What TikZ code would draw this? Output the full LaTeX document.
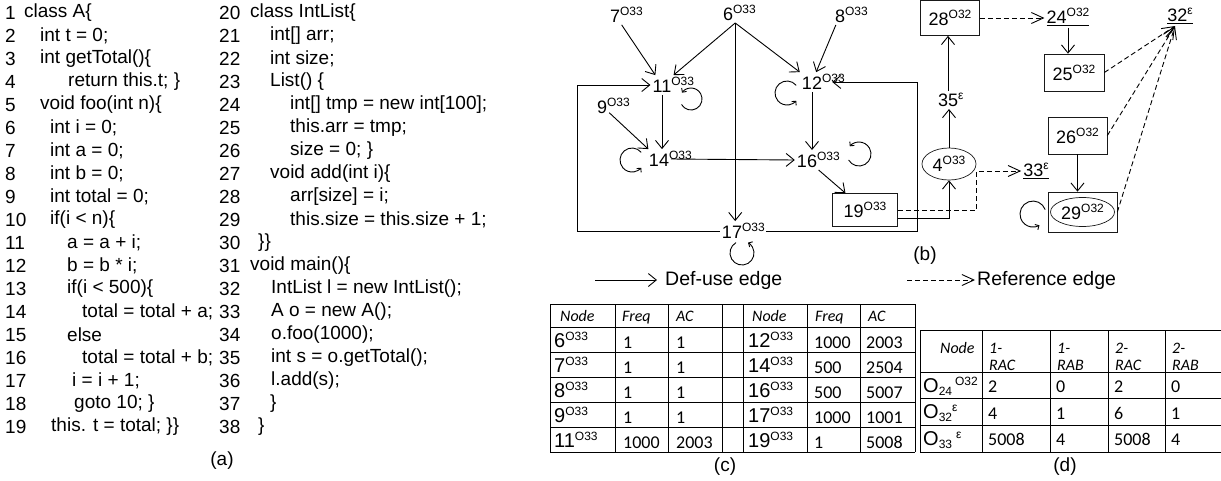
\documentclass[tikz,border=0pt]{standalone}
\usepackage{fontspec}
\setmainfont{Liberation Sans}
\newfontfamily\tabfont{Carlito}
\usetikzlibrary{positioning, arrows.meta, shapes.geometric}

\newcommand\ssup[1]{\raisebox{7pt}{\fontsize{12}{12}\selectfont #1}}
\newcommand\dn[1]{\raisebox{-3pt}{\fontsize{12}{12}\selectfont #1}}
\newcommand\vlab[2]{#1\rlap{\ssup{#2}}}

\tikzset{
  code/.style={anchor=west, inner sep=0pt, font=\fontsize{19}{22}\selectfont},
  vert/.style={inner sep=2pt, font=\fontsize{18}{18}\selectfont},
  stmt/.style={draw=black!90, line width=0.7pt, inner sep=2pt, font=\fontsize{18}{18}\selectfont},
  du/.style={-{Straight Barb[length=8pt,width=13pt]}, line width=0.9pt},
  rf/.style={dash pattern=on 5pt off 3pt, -{Straight Barb[length=12pt,width=11pt]}, line width=0.9pt},
  lp/.style={-{Straight Barb[length=3pt,width=6pt]}, line width=0.9pt},
  tline/.style={line width=0.9pt},
  lab/.style={anchor=base west, inner sep=0pt, font=\fontsize{20}{20}\selectfont},
  cell/.style={anchor=base west, inner sep=0pt, font=\tabfont\fontsize{18}{18}\selectfont},
  hd/.style={anchor=base west, inner sep=0pt, font=\tabfont\itshape\fontsize{16}{16}\selectfont},
  capt/.style={inner sep=0pt, font=\fontsize{19}{19}\selectfont},
}

\begin{document}
\begin{tikzpicture}[x=1pt, y=-1pt]
  \useasboundingbox (0,0) rectangle (1221,480);

  % (a) the code
  \foreach \n/\x/\txt in {1/24/class A\{, 2/40/int t = 0;, 3/40/int getTotal()\{,
      4/68/return this.t; \}, 5/40/void foo(int n)\{, 6/50/int i = 0;, 7/50/int a = 0;,
      8/50/int b = 0;, 9/50/int total = 0;, 10/50/if(i < n)\{, 11/67/a = a + i;,
      12/67/b = b * i;, 13/67/if(i < 500)\{, 14/82/total = total + a;, 15/67/else,
      16/82/total = total + b;, 17/72/i = i + 1;, 18/74/goto 10; \},
      19/51/this. t = total; \}\}}
    {\node[code] (ln\n) at (5,{13+(\n-1)*23}) {\n};
     \node[code] (cl\n) at (\x,{13+(\n-1)*23}) {\txt};}
  \foreach \n/\x/\txt in {20/250/class IntList\{, 21/270/int[] arr;, 22/270/int size;,
      23/270/List() \{, 24/290/int[] tmp = new int[100];, 25/290/this.arr = tmp;,
      26/290/size = 0; \}, 27/270/void add(int i)\{, 28/290/arr[size] = i;,
      29/290/this.size = this.size + 1;, 30/258/\}\}, 31/250/void main()\{,
      32/271/IntList l = new IntList();, 33/271/A o = new A();, 34/271/o.foo(1000);,
      35/271/int s = o.getTotal();, 36/271/l.add(s);, 37/270/\}, 38/258/\}}
    {\node[code] (ln\n) at (219,{13+(\n-20)*23}) {\n};
     \node[code] (cl\n) at (\x,{13+(\n-20)*23}) {\txt};}
  \node[capt] (capa) at (222,461) {(a)};

  % (b) the graph
  \node[vert] (n7) at (615,15) {\vlab{7}{O33}};
  \node[vert] (n6) at (728,13) {\vlab{6}{O33}};
  \node[vert] (n8) at (840,15) {\vlab{8}{O33}};
  \node[vert] (n11) at (662,85) {\vlab{11}{O33}};
  \node[vert] (n12) at (812,82) {\vlab{12}{O33}};
  \node[vert] (n9) at (602,106) {\vlab{9}{O33}};
  \node[vert] (n14) at (659,159) {\vlab{14}{O33}};
  \node[vert] (n16) at (807,160) {\vlab{16}{O33}};
  \node[vert] (n17) at (732,231) {\vlab{17}{O33}};
  \node[stmt, minimum width=65pt, minimum height=33pt] (n19) at (865,210) {19\ssup{O33}};
  \node[stmt, ellipse, minimum width=54pt, minimum height=32pt, inner sep=0pt] (n4) at (949,164) {4\ssup{O33}};
  \node[vert] (n35) at (948,100) {\vlab{35}{ε}};
  \node[stmt, minimum width=59pt, minimum height=35pt] (n28) at (950,18) {28\ssup{O32}};
  \node[vert] (n24) at (1068,17) {\underline{24\ssup{O32}}};
  \node[stmt, minimum width=60pt, minimum height=37pt] (n25) at (1074,72.5) {25\ssup{O32}};
  \node[stmt, minimum width=59pt, minimum height=37pt] (n26) at (1077.5,135.5) {26\ssup{O32}};
  \node[stmt, minimum width=69pt, minimum height=40pt] (n29) at (1082.5,212) {};
  \node[stmt, ellipse, minimum width=64pt, minimum height=29pt, inner sep=0pt] (n29e) at (n29) {29\ssup{O32}};
  \node[vert] (n33) at (1036,171) {\underline{33\ssup{ε}}};
  \node[vert] (n32) at (1180,16) {\underline{32\ssup{ε}}};
  \coordinate (lft) at (577,231);
  \coordinate (rgt) at (917,231);

  % def-use edges
  \draw[du] (n7) -- (n11);
  \draw[du] (n6.south east) -- (n11.north east);
  \draw[du] (n6.south east) -- (n12.north west);
  \draw[du] (n6.south east) -- (n6.south east |- n17.north);
  \draw[du] (n8) -- (n12);
  \draw[du] (n11.south) -- (n11.south |- n14.north);
  \draw[du] (n9) -- (n14);
  \draw[du] (n12.south) -- (n12.south |- n16.north);
  \draw[du] (n14.east) -- (n16.west);
  \draw[du] (n16) -- (n19);
  \draw[du] (n17.west) -- (lft) |- (n11.west);
  \draw[du] ([xshift=22pt]n17.east) -- (rgt) |- ([xshift=8pt]n12.east);
  \draw[du] ([yshift=-8pt]n19.east) -| (n4.south);
  \draw[du] (n4.north) -- (n4.north |- n35.south);
  \draw[du] (n35.north) -- (n35.north |- n28.south);
  \draw[du] (n24.south) -- (n24.south |- n25.north);
  \draw[du] (n26.south) -- (n26.south |- n29.north);
  % self loops
  \draw[lp] ([shift={(19.5,19.5)}]n11.center) arc[start angle=150, end angle=-145, radius=11];
  \draw[lp] ([shift={(-15.8,3.3)}]n12.center) arc[start angle=-40, end angle=-320, radius=12];
  \draw[lp] ([shift={(-17.8,-6.7)}]n14.center) arc[start angle=-40, end angle=-320, radius=12];
  \draw[lp] ([shift={(41.6,0)}]n16.center) arc[start angle=150, end angle=-140, radius=12];
  \draw[lp] ([shift={(4,11.6)}]n17.center) arc[start angle=240, end angle=-60, radius=12];
  \draw[lp] ([shift={(-37.3,-2.4)}]n29.center) arc[start angle=-20, end angle=-300, radius=13];
  % reference edges
  \draw[rf] (n19.east) -| (n4.east |- n33) -- (n33.west);
  \draw[rf] (n28.east) -- (n28.east -| n24.west);
  \draw[rf] (n25.east) -- ([xshift=-5pt]n32.south);
  \draw[rf] (n26.east) -- ([xshift=-5pt]n32.south);
  \draw[rf] (n29.east) -- ([xshift=-5pt]n32.south);
  \node[capt] (capb) at (925,256) {(b)};

  % legend
  \node[capt, anchor=west, font=\fontsize{19.5}{19.5}\selectfont] (dulab) at (665,280) {Def-use edge};
  \draw[du] ([xshift=-70pt]dulab.west) -- ([xshift=-8pt]dulab.west);
  \node[capt, anchor=west, font=\fontsize{19.5}{19.5}\selectfont] (rflab) at (977,280) {Reference edge};
  \draw[rf] ([xshift=-70pt]rflab.west) -- ([xshift=-2pt]rflab.west);

  % (c) frequencies
  \foreach \x in {550,615,668,722,743,807,860,915}
    \draw[tline] (\x,304) -- (\x,452);
  \foreach \y in {304,327,352,377,402,427,452}
    \draw[tline] (550,\y) -- (915,\y);
  \foreach \x/\k/\hdr in {560/1/Node, 622/2/Freq, 676/3/AC, 752/4/Node, 815/5/Freq, 868/6/AC}
    {\node[hd] (ch\k) at (\x,321) {\hdr};}
  \foreach \r/\a/\fa/\ca/\b/\fb/\cb in {1/6/1/1/12/1000/2003, 2/7/1/1/14/500/2504,
      3/8/1/1/16/500/5007, 4/9/1/1/17/1000/1001, 5/11/1000/2003/19/1/5008}
    {\node[lab] (cn\r) at (554,{322+25*\r}) {\a\ssup{O33}};
     \node[cell] (cf\r) at (623,{323+25*\r}) {\fa};
     \node[cell] (cc\r) at (676,{323+25*\r}) {\ca};
     \node[lab] (dn\r) at (748,{322+25*\r}) {\b\ssup{O33}};
     \node[cell] (df\r) at (814,{323+25*\r}) {\fb};
     \node[cell] (dc\r) at (866,{323+25*\r}) {\cb};}
  \node[capt] (capc) at (725,467) {(c)};

  % (d) reference counts
  \foreach \x in {920,982,1050,1108,1165,1224}
    \draw[tline] (\x,330) -- (\x,452);
  \foreach \y in {330,372,398.5,425,452}
    \draw[tline] (920,\y) -- (1224,\y);
  \node[hd] (hnode) at (940,353) {Node};
  \foreach \x/\p/\q in {989/1-/RAC, 1057/1-/RAB, 1115/2-/RAC, 1172/2-/RAB}
    {\node[hd] (hp\x) at (\x,353) {\p};
     \node[hd] (hq\x) at (\x,370) {\q};}
  \foreach \r/\o/\ra/\rb/\sa/\sb in {1/O\dn{24}\hspace{3pt}\ssup{O32}/2/0/2/0,
      2/O\dn{32}\ssup{ε}/4/1/6/1, 3/O\dn{33}\hspace{4pt}\ssup{ε}/5008/4/5008/4}
    {\node[lab] (on\r) at (923,{365.5+26.5*\r}) {\o};
     \node[cell] (ra\r) at (988,{366+26.5*\r}) {\ra};
     \node[cell] (rb\r) at (1056,{366+26.5*\r}) {\rb};
     \node[cell] (sa\r) at (1114,{366+26.5*\r}) {\sa};
     \node[cell] (sb\r) at (1171,{366+26.5*\r}) {\sb};}
  \node[capt] (capd) at (1065,467) {(d)};
\end{tikzpicture}
\end{document}
